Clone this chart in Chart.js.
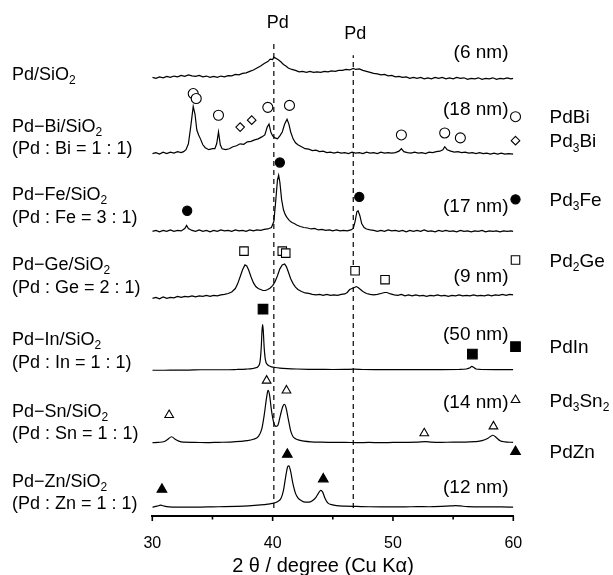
<!DOCTYPE html>
<html>
<head>
<meta charset="utf-8">
<script src="https://cdn.jsdelivr.net/npm/chart.js@4.4.1/dist/chart.umd.min.js"></script>
<style>
  html, body { margin: 0; padding: 0; background: #fff; }
</style>
</head>
<body>
<canvas id="xrd" width="613" height="575"></canvas>
<script>
// x axis
const majorTicks = [30, 40, 50, 60];
const minorTicks = [35, 45, 55];
const pdRefAngles = [40.1, 46.7];

// XRD patterns: [2θ, intensity above own baseline]
const pdSiO2 = [[30.0,0.5],[30.3,-0.5],[30.6,1],[30.9,0],[31.2,1.5],[31.5,0.5],[31.8,1.8],[32.1,1],[32.4,2.5],[32.7,1.5],[33.0,3],[33.3,2],[33.6,1.5],[33.9,2.5],[34.2,1],[34.5,1.8],[34.8,0.5],[35.1,1.5],[35.4,0.5],[35.7,1.8],[36.0,1],[36.3,2.2],[36.6,2],[36.9,3.5],[37.2,3],[37.5,4.5],[37.8,5],[38.1,6.5],[38.4,8],[38.7,10],[39.0,12],[39.3,14.5],[39.6,16.5],[39.8,19],[40.0,18.5],[40.1,21],[40.3,19.5],[40.5,18],[40.7,16],[40.9,13.5],[41.1,12],[41.3,10],[41.6,8.5],[41.9,7.5],[42.2,6],[42.5,6.5],[42.8,5.5],[43.1,6.5],[43.4,5.5],[43.7,6],[44.0,5.5],[44.3,6.5],[44.6,6],[44.9,7],[45.2,6.5],[45.5,7.5],[45.8,7.5],[46.1,8.5],[46.4,8],[46.7,9.5],[46.9,8.5],[47.2,9],[47.5,7.5],[47.8,6.5],[48.1,5.5],[48.4,4.5],[48.7,4],[49.0,3],[49.3,3.5],[49.6,2],[49.9,2.5],[50.2,1],[50.5,1.5],[50.8,0.5],[51.1,1],[51.4,-0.5],[51.7,0.5],[52.0,-0.5],[52.3,0.5],[52.6,-1],[52.9,0],[53.2,-1],[53.5,0.5],[53.8,-0.5],[54.1,0.5],[54.4,-1],[54.7,0],[55.0,-1],[55.3,0.5],[55.6,-0.5],[55.9,0],[56.2,-1.5],[56.5,-0.5],[56.8,-1],[57.1,0],[57.4,-1.5],[57.7,-0.5],[58.0,-1],[58.3,0],[58.6,-1.5],[58.9,-0.5],[59.2,-1],[59.5,0],[59.8,-1],[60.0,-0.5]];

const pdBiSiO2 = [[30.0,0],[30.3,1],[30.6,-0.5],[30.9,1.5],[31.2,0],[31.5,1.5],[31.8,0.5],[32.1,2],[32.4,1],[32.6,2],[32.8,4],[33.0,10],[33.2,28],[33.4,48],[33.55,40],[33.7,24],[33.85,19],[34.0,15],[34.2,9],[34.4,6],[34.7,4],[35.0,5],[35.2,5],[35.35,10],[35.5,22],[35.65,9],[35.8,5],[36.1,4],[36.4,5],[36.7,7],[37.0,8],[37.3,10],[37.6,9.5],[37.9,12],[38.2,12.5],[38.5,14],[38.8,15],[39.1,17],[39.35,19],[39.55,27],[39.7,30],[39.85,22],[40.0,18],[40.2,16],[40.4,15],[40.6,18],[40.8,22],[41.0,30],[41.2,35],[41.35,30],[41.5,22],[41.7,15],[41.9,11],[42.1,9],[42.4,7],[42.7,5],[43.0,4.5],[43.3,3],[43.6,3.5],[43.9,2],[44.2,2.5],[44.5,1],[44.8,1.5],[45.1,0.5],[45.4,1.5],[45.7,0.5],[46.0,1],[46.3,0],[46.6,1.5],[46.9,0.5],[47.2,1],[47.5,0],[47.8,1.5],[48.1,0.5],[48.4,1],[48.7,0],[49.0,1.5],[49.3,0.5],[49.6,1],[49.9,0.5],[50.2,1],[50.5,2.5],[50.7,5],[50.9,2],[51.2,1],[51.5,0.5],[51.8,1.5],[52.1,0.5],[52.4,1],[52.7,0],[53.0,1.5],[53.3,1],[53.6,2],[53.9,2.5],[54.15,4],[54.3,7],[54.5,4],[54.8,2.5],[55.1,1.5],[55.4,2],[55.7,1],[56.0,1.5],[56.3,0.5],[56.6,1],[56.9,0],[57.2,1],[57.5,0],[57.8,0.5],[58.1,-0.5],[58.4,0.5],[58.7,-0.5],[59.0,0.5],[59.3,-0.5],[59.6,0],[60.0,-0.5]];

const pdFeSiO2 = [[30.0,0],[30.3,1],[30.6,-0.5],[30.9,1],[31.2,0],[31.5,1.5],[31.8,0],[32.1,1],[32.4,0.5],[32.7,3],[32.85,6],[33.0,3],[33.3,1],[33.6,0],[33.9,1.5],[34.2,0],[34.5,1],[34.8,-0.5],[35.1,1],[35.4,0],[35.7,1.5],[36.0,0.5],[36.3,1],[36.6,0],[36.9,1.5],[37.2,0.5],[37.5,1],[37.8,0],[38.1,1.5],[38.4,0.5],[38.7,1.5],[39.0,1],[39.3,2],[39.6,2.5],[39.9,4],[40.1,10],[40.25,30],[40.4,52],[40.5,57],[40.6,50],[40.75,32],[40.9,22],[41.05,17],[41.2,14],[41.4,11],[41.6,9],[41.8,8],[42.0,6.5],[42.3,5],[42.6,4],[42.9,3.5],[43.2,2.5],[43.5,3],[43.8,1.5],[44.1,2],[44.4,1],[44.7,1.5],[45.0,0.5],[45.3,1.5],[45.6,0.5],[45.9,1],[46.2,0.5],[46.5,1.5],[46.7,3],[46.85,10],[47.0,20],[47.1,21],[47.25,16],[47.4,8],[47.6,4],[47.8,2.5],[48.1,1.5],[48.4,1],[48.7,0],[49.0,1],[49.3,0],[49.6,1.5],[49.9,0.5],[50.2,1],[50.5,0],[50.8,1],[51.1,-0.5],[51.4,1],[51.7,0],[52.0,1],[52.3,0],[52.6,1.5],[52.9,0],[53.2,0.5],[53.5,-0.5],[53.8,1],[54.1,0],[54.4,1],[54.7,0],[55.0,0.5],[55.3,-0.5],[55.6,1],[55.9,0],[56.2,0.5],[56.5,-0.5],[56.8,0.5],[57.1,0],[57.4,1],[57.7,-0.5],[58.0,0.5],[58.3,0],[58.6,0.5],[58.9,-0.5],[59.2,0.5],[59.5,0],[59.8,0.5],[60.0,0]];

const pdGeSiO2 = [[30.0,-1],[30.3,0],[30.6,-1.5],[30.9,0.5],[31.2,-1],[31.5,0],[31.8,-0.5],[32.1,1],[32.4,0],[32.7,1],[33.0,0.5],[33.3,1.5],[33.6,0.5],[33.9,1.5],[34.2,1],[34.5,2],[34.8,1],[35.1,2],[35.4,1.5],[35.7,2.5],[36.0,3],[36.3,4],[36.6,5.5],[36.9,9],[37.1,14],[37.3,21],[37.5,28],[37.7,33],[37.85,32],[38.0,28],[38.2,21],[38.4,15],[38.6,11],[38.8,9],[39.0,8],[39.2,7],[39.4,7],[39.6,8],[39.8,9.5],[40.0,12],[40.2,16],[40.4,22],[40.6,29],[40.8,33],[41.0,34],[41.15,31],[41.3,26],[41.5,19],[41.7,14],[41.9,10.5],[42.1,8],[42.4,6],[42.7,4.5],[43.0,4],[43.3,3],[43.6,2.5],[43.9,3],[44.2,2],[44.5,3],[44.8,2],[45.1,2.5],[45.4,2],[45.7,3],[46.0,3.5],[46.2,5],[46.4,8],[46.6,9],[46.8,10],[46.95,11],[47.1,10],[47.3,8],[47.5,6],[47.8,4],[48.1,3],[48.4,2.5],[48.7,3],[49.0,4],[49.3,5],[49.5,5],[49.8,3.5],[50.1,2.5],[50.4,2],[50.7,3],[51.0,1.5],[51.3,2.5],[51.6,1.5],[51.9,2.5],[52.2,1.5],[52.5,2],[52.8,1],[53.1,2],[53.4,1.5],[53.7,2.5],[54.0,1.5],[54.3,2],[54.6,1],[54.9,2],[55.2,1.5],[55.5,2.5],[55.8,1.5],[56.1,2],[56.4,1.5],[56.7,2.5],[57.0,1.5],[57.3,2],[57.6,1.5],[57.9,2.5],[58.2,1.5],[58.5,2.5],[58.8,2],[59.1,3],[59.4,2],[59.7,3],[60.0,2.5]];

const pdInSiO2 = [[30.0,-0.5],[31.0,-0.5],[32.0,-0.3],[33.0,-0.3],[34.0,0],[35.0,0],[36.0,0],[37.0,0.3],[37.8,0.7],[38.3,1.2],[38.6,2],[38.8,3.5],[38.95,8],[39.05,22],[39.12,40],[39.17,46],[39.22,40],[39.3,22],[39.4,10],[39.55,5.5],[39.7,4],[39.9,3],[40.2,2.3],[40.6,1.7],[41.2,1.2],[42.0,0.8],[43.0,0.5],[44.0,0.4],[45.0,0.3],[46.0,0.4],[46.8,0.6],[47.5,0.3],[48.5,0.2],[50.0,0.2],[52.0,0.2],[54.0,0.2],[55.5,0.3],[56.1,0.8],[56.4,2],[56.55,3.5],[56.7,2.5],[56.9,0.8],[57.3,0.3],[58.5,0.2],[60.0,0.2]];

const pdSnSiO2 = [[30.0,0],[30.5,0.3],[31.0,1.2],[31.3,3.5],[31.6,6],[31.9,3.5],[32.2,1.5],[32.6,0.5],[33.5,0.3],[34.5,0],[35.5,0.3],[36.5,0.6],[37.3,1.2],[37.9,2],[38.4,3.5],[38.8,6],[39.1,14],[39.3,28],[39.5,46],[39.62,53],[39.75,48],[39.9,33],[40.1,20],[40.28,16.5],[40.45,18],[40.65,28],[40.85,37],[40.98,39],[41.1,36],[41.3,24],[41.5,12],[41.7,6],[41.9,4],[42.2,2.5],[42.6,1.5],[43.2,0.8],[44.0,0.5],[45.0,0.3],[46.0,0.3],[47.0,0],[48.0,0.2],[49.0,0],[50.0,0.2],[51.0,0.3],[52.0,0.5],[52.7,1],[53.2,0.5],[54.0,0.3],[55.0,0.5],[56.0,0.5],[56.8,1],[57.4,2],[57.9,4.5],[58.3,7.5],[58.6,5],[58.9,2],[59.3,0.8],[60.0,0.3]];

const pdZnSiO2 = [[30.0,0],[30.4,1],[30.7,2],[31.0,1],[31.4,0.3],[32.0,0],[33.0,0],[34.0,0],[35.0,0.3],[36.0,0.5],[37.0,0.8],[38.0,1.3],[39.0,2.2],[39.6,3],[40.0,3.8],[40.4,5.5],[40.7,9],[40.9,17],[41.1,32],[41.25,41],[41.35,42],[41.5,36],[41.7,23],[41.9,14],[42.1,9.5],[42.4,6.5],[42.7,5],[43.0,5],[43.3,6.5],[43.6,10],[43.85,15],[44.0,17],[44.15,15.5],[44.35,9],[44.6,4],[44.9,2.5],[45.3,1.5],[46.0,1],[47.0,0.7],[48.0,0.4],[49.0,0.3],[50.0,0.3],[51.0,0.3],[52.0,0.5],[53.0,0.4],[54.0,0.7],[54.8,1.2],[55.2,1.6],[55.6,1.2],[56.2,0.5],[57.0,0.3],[58.0,0.2],[59.0,0.2],[60.0,0]];

// reflection marks: [2θ, height above own baseline]
const pdBiMarks = [[33.4,61],[33.65,56],[35.5,39],[39.6,47],[41.4,49],[50.7,19],[54.3,21],[55.6,16]];
const pd3BiMarks = [[37.3,27],[38.26,34]];
const pd3FeMarks = [[32.9,21],[40.6,70],[47.2,35]];
const pd2GeMarks = [[37.62,47],[40.8,47],[41.09,45],[46.85,27],[49.34,18]];
const pdInMarks = [[39.2,61.5],[56.6,16]];
const pd3Sn2Marks = [[31.4,28],[39.5,63],[41.15,53],[52.6,9.5],[58.35,16.5]];
const pdZnMarks = [[30.8,18],[41.22,53.5],[44.21,28.5]];

const sampleNames = ['Pd/SiO_2', 'Pd−Bi/SiO_2', 'Pd−Fe/SiO_2', 'Pd−Ge/SiO_2', 'Pd−In/SiO_2', 'Pd−Sn/SiO_2', 'Pd−Zn/SiO_2'];
const sampleRatios = ['', '(Pd : Bi = 1 : 1)', '(Pd : Fe = 3 : 1)', '(Pd : Ge = 2 : 1)', '(Pd : In = 1 : 1)', '(Pd : Sn = 1 : 1)', '(Pd : Zn = 1 : 1)'];
const crystalliteSizes = ['(6 nm)', '(18 nm)', '(17 nm)', '(9 nm)', '(50 nm)', '(14 nm)', '(12 nm)'];
const phaseNames = ['PdBi', 'Pd_3Bi', 'Pd_3Fe', 'Pd_2Ge', 'PdIn', 'Pd_3Sn_2', 'PdZn'];

// layout (pixel-ish units, y value 0 = axis line)
const stackOffset = [445, 368, 289, 222, 148.5, 74.5, 9];
const dashTop = [481, 468];
const FONT = '"Liberation Sans", Arial, sans-serif';

const patterns = [pdSiO2, pdBiSiO2, pdFeSiO2, pdGeSiO2, pdInSiO2, pdSnSiO2, pdZnSiO2];
const smooth = [false, false, false, false, true, true, true];

// phase marker styles, same order as phaseNames
const phaseStyle = [
  { marks: pdBiMarks, trace: 1, style: 'circle', r: 5, fill: '#fff' },
  { marks: pd3BiMarks, trace: 1, style: 'rectRot', r: 4.3, fill: '#fff' },
  { marks: pd3FeMarks, trace: 2, style: 'circle', r: 4.6, fill: '#000' },
  { marks: pd2GeMarks, trace: 3, style: 'rect', r: 6, fill: '#fff' },
  { marks: pdInMarks, trace: 4, style: 'rect', r: 6.8, fill: '#000' },
  { marks: pd3Sn2Marks, trace: 5, style: 'triangle', r: 5, fill: '#fff' },
  { marks: pdZnMarks, trace: 6, style: 'triangle', r: 5.6, fill: '#000' },
];

const datasets = [];
phaseStyle.forEach(p => {
  datasets.push({
    type: 'scatter',
    data: p.marks.map(([a, h]) => ({ x: a, y: h + stackOffset[p.trace] })),
    pointStyle: p.style,
    pointRadius: p.r,
    pointBackgroundColor: p.fill,
    pointBorderColor: '#000',
    pointBorderWidth: 1.1,
    showLine: false,
    order: 0,
  });
});
patterns.forEach((pts, i) => {
  datasets.push({
    type: 'line',
    data: pts.map(([a, v]) => ({ x: a, y: v + stackOffset[i] })),
    borderColor: '#000',
    borderWidth: 1.2,
    pointRadius: 0,
    tension: 0,
    cubicInterpolationMode: smooth[i] ? 'monotone' : 'default',
    order: 1,
  });
});
pdRefAngles.forEach((a, i) => {
  datasets.push({
    type: 'line',
    data: [{ x: a, y: 8 }, { x: a, y: dashTop[i] }],
    borderColor: '#000',
    borderWidth: 1.2,
    borderDash: [5, 4],
    pointRadius: 0,
    order: 2,
  });
});

// text with "_x" as subscript
function richText(ctx, str, x, y, size, align) {
  const parts = [];
  for (let i = 0; i < str.length; i++) {
    if (str[i] === '_') { parts.push({ t: str[i + 1], sub: true }); i++; }
    else if (parts.length && !parts[parts.length - 1].sub) parts[parts.length - 1].t += str[i];
    else parts.push({ t: str[i], sub: false });
  }
  const big = size + 'px ' + FONT;
  const small = Math.round(size * 0.65) + 'px ' + FONT;
  let w = 0;
  parts.forEach(p => { ctx.font = p.sub ? small : big; w += ctx.measureText(p.t).width; });
  let cx = align === 'right' ? x - w : align === 'center' ? x - w / 2 : x;
  ctx.textAlign = 'left';
  ctx.textBaseline = 'alphabetic';
  parts.forEach(p => {
    ctx.font = p.sub ? small : big;
    ctx.fillText(p.t, cx, p.sub ? y + size * 0.24 : y);
    cx += ctx.measureText(p.t).width;
  });
}

function marker(ctx, style, r, fill, x, y) {
  ctx.save();
  ctx.fillStyle = fill;
  ctx.strokeStyle = '#000';
  ctx.lineWidth = 1.1;
  ctx.beginPath();
  if (style === 'circle') ctx.arc(x, y, r, 0, Math.PI * 2);
  else if (style === 'rect') { const s = r * Math.SQRT1_2; ctx.rect(x - s, y - s, 2 * s, 2 * s); }
  else if (style === 'rectRot') { ctx.moveTo(x, y - r); ctx.lineTo(x + r, y); ctx.lineTo(x, y + r); ctx.lineTo(x - r, y); ctx.closePath(); }
  else if (style === 'triangle') {
    const h = r * 0.75;
    ctx.moveTo(x, y - h - r * 0.25); ctx.lineTo(x + r * 0.866, y + h - r * 0.25); ctx.lineTo(x - r * 0.866, y + h - r * 0.25); ctx.closePath();
  }
  ctx.fill();
  ctx.stroke();
  ctx.restore();
}

const nameBase = [80, 131.7, 200, 270, 345, 416.7, 486.7];
const sizeBase = [58.3, 115, 211.7, 281.7, 340, 408.3, 493.3];
const legendY = [116.7, 140.7, 199.3, 260, 346.7, 400, 451.7];

const decorations = {
  id: 'decorations',
  afterDraw(chart) {
    const { ctx, scales: { x, y } } = chart;
    ctx.save();
    ctx.fillStyle = '#000';
    ctx.strokeStyle = '#000';

    // ticks below the axis line
    ctx.lineWidth = 1.6;
    majorTicks.concat(minorTicks).forEach(t => {
      const px = x.getPixelForValue(t);
      const len = majorTicks.includes(t) ? 5 : 3.5;
      ctx.beginPath();
      ctx.moveTo(px, y.bottom);
      ctx.lineTo(px, y.bottom + len);
      ctx.stroke();
    });

    // axis title
    richText(ctx, '2 θ / degree (Cu Kα)', 323, 572, 20, 'center');

    // Pd reference labels
    richText(ctx, 'Pd', x.getPixelForValue(pdRefAngles[0]) + 4, 28.3, 18, 'center');
    richText(ctx, 'Pd', x.getPixelForValue(pdRefAngles[1]) + 2, 39.3, 18, 'center');

    // sample labels and crystallite sizes
    sampleNames.forEach((n, i) => {
      richText(ctx, n, 12, nameBase[i], 18, 'left');
      if (sampleRatios[i]) richText(ctx, sampleRatios[i], 12, nameBase[i] + 22.7, 18, 'left');
      richText(ctx, crystalliteSizes[i], 508.5, sizeBase[i], 19, 'right');
    });

    // phase legend
    phaseNames.forEach((n, i) => {
      const p = phaseStyle[i];
      marker(ctx, p.style, p.r, p.fill, 515.5, legendY[i]);
      richText(ctx, n, 549.5, legendY[i] + 6.5, 19, 'left');
    });
    ctx.restore();
  }
};

new Chart(document.getElementById('xrd'), {
  type: 'line',
  data: { datasets },
  options: {
    responsive: false,
    animation: false,
    layout: { padding: { left: 152.3, right: 99.7, top: 0, bottom: 0 } },
    scales: {
      x: {
        type: 'linear',
        min: 30,
        max: 60,
        grid: { display: false },
        border: { display: true, color: '#000', width: 2 },
        ticks: {
          stepSize: 10,
          color: '#000',
          padding: 10,
          font: { size: 16, family: FONT },
          maxRotation: 0,
        },
        afterFit: (s) => { s.height = 59; },
      },
      y: { display: false, min: 0, max: 516 },
    },
    plugins: {
      legend: { display: false },
      tooltip: { enabled: false },
    },
  },
  plugins: [decorations],
});
</script>
</body>
</html>
